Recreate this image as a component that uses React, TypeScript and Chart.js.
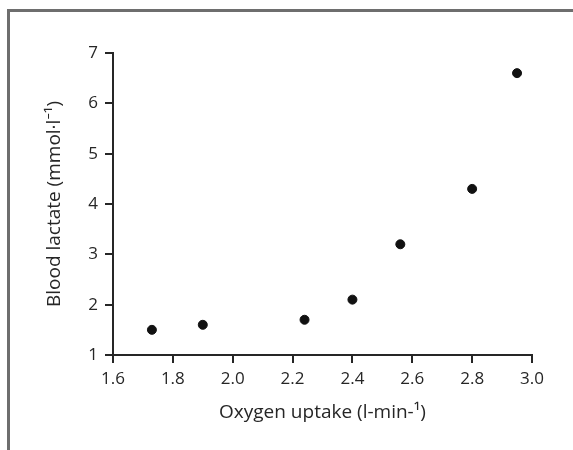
import React, { useEffect, useRef } from "react";
import { Chart, registerables } from "chart.js";

Chart.register(...registerables);

// Oxygen uptake (l·min⁻¹) against blood lactate (mmol·l⁻¹)
const oxygenUptake = [1.73, 1.9, 2.24, 2.4, 2.56, 2.8, 2.95];
const bloodLactate = [1.5, 1.6, 1.7, 2.1, 3.2, 4.3, 6.6];

const xTicks = [1.6, 1.8, 2.0, 2.2, 2.4, 2.6, 2.8, 3.0];
const yTicks = [1, 2, 3, 4, 5, 6, 7];

const xTitle = "Oxygen uptake (l-min-¹)";
const yTitle = "Blood lactate (mmol·l⁻¹)";

const W = 573;
const H = 450;
const INK = "#262626";
const FONT = "'Open Sans', 'Noto Sans', sans-serif";

// Open frame along the top and left edges of the figure
const framePlugin = {
  id: "frame",
  beforeDraw(chart: Chart) {
    const ctx = chart.ctx;
    ctx.save();
    ctx.strokeStyle = "#6e6e6e";
    ctx.lineWidth = 3;
    ctx.beginPath();
    ctx.moveTo(8.5, H);
    ctx.lineTo(8.5, 10.5);
    ctx.lineTo(W, 10.5);
    ctx.stroke();
    ctx.restore();
  },
};

export default function App() {
  const ref = useRef<HTMLCanvasElement | null>(null);

  useEffect(() => {
    document.body.style.margin = "0";
    const canvas = ref.current;
    if (!canvas) return;
    const chart = new Chart(canvas, {
      type: "scatter",
      data: {
        datasets: [
          {
            data: oxygenUptake.map((x, i) => ({ x, y: bloodLactate[i] })),
            backgroundColor: "#111",
            borderColor: "#111",
            pointRadius: 4.5,
            pointHoverRadius: 4.5,
          },
        ],
      },
      options: {
        responsive: false,
        animation: false,
        events: [],
        layout: { padding: { left: 0, top: 53, right: 41, bottom: 0 } },
        plugins: {
          legend: { display: false },
          tooltip: { enabled: false },
        },
        scales: {
          x: {
            type: "linear",
            min: 1.6,
            max: 3.0,
            afterFit: (s: any) => {
              s.height = 95;
            },
            afterBuildTicks: (s: any) => {
              s.ticks = xTicks.map((v) => ({ value: v }));
            },
            ticks: {
              color: INK,
              font: { family: FONT, size: 17 },
              padding: 6,
              callback: (v: any) => Number(v).toFixed(1),
            },
            grid: {
              display: true,
              drawOnChartArea: false,
              drawTicks: true,
              tickLength: 8,
              color: INK,
              lineWidth: 2,
            },
            border: { display: true, color: INK, width: 2 },
            title: {
              display: true,
              text: xTitle,
              color: INK,
              font: { family: FONT, size: 19 },
              padding: { top: 0, bottom: 26 },
            },
          },
          y: {
            type: "linear",
            min: 1,
            max: 7,
            afterFit: (s: any) => {
              s.width = 113;
            },
            afterBuildTicks: (s: any) => {
              s.ticks = yTicks.map((v) => ({ value: v }));
            },
            ticks: {
              color: INK,
              font: { family: FONT, size: 17 },
              padding: 7,
            },
            grid: {
              display: true,
              drawOnChartArea: false,
              drawTicks: true,
              tickLength: 8,
              color: INK,
              lineWidth: 2,
            },
            border: { display: true, color: INK, width: 2 },
            title: {
              display: true,
              text: yTitle,
              color: INK,
              font: { family: FONT, size: 19 },
              padding: { top: 43, bottom: 0 },
            },
          },
        },
      },
      plugins: [framePlugin],
    });
    return () => chart.destroy();
  }, []);

  return (
    <div style={{ width: W, height: H, background: "#fff" }}>
      <canvas ref={ref} width={W} height={H} style={{ display: "block" }} />
    </div>
  );
}
